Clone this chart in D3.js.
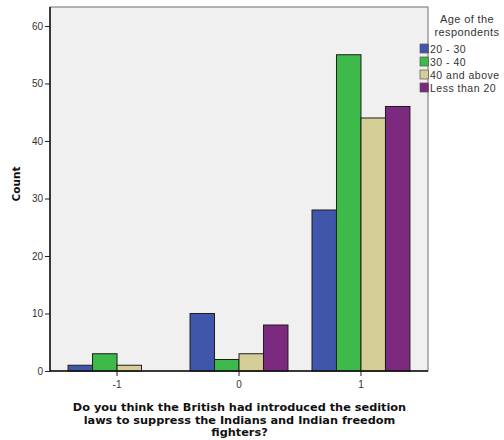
<!DOCTYPE html>
<html>
<head>
<meta charset="utf-8">
<script src="https://cdn.jsdelivr.net/npm/d3@7"></script>
<style>
  body { margin: 0; background: #fff; }
  svg { display: block; }
  text { font-family: "DejaVu Sans", sans-serif; }
</style>
</head>
<body>
<svg id="chart" width="504" height="440"></svg>
<script>
const categories = ["-1", "0", "1"];
const seriesNames = ["20 - 30", "30 - 40", "40 and above", "Less than 20"];
const values_20_30 = [1, 10, 28];
const values_30_40 = [3, 2, 55];
const values_40_above = [1, 3, 44];
const values_less_20 = [0, 8, 46];
const yTicks = [0, 10, 20, 30, 40, 50, 60];
const colors = ["#3f56aa", "#3dba4a", "#d5cf97", "#7b2a80"];

const seriesValues = [values_20_30, values_30_40, values_40_above, values_less_20];

const svg = d3.select("#chart");
const plot = { left: 50, right: 428, top: 7, bottom: 371 };

const x = d3.scaleBand().domain(categories).range([plot.left, plot.right]).paddingInner(0.197).paddingOuter(0.148);
const xs = d3.scaleBand().domain(seriesNames).range([0, x.bandwidth()]);
const y = d3.scaleLinear().domain([0, 63.3]).range([plot.bottom, plot.top]);

// background
svg.append("rect").attr("x", plot.left).attr("y", plot.top)
  .attr("width", plot.right - plot.left).attr("height", plot.bottom - plot.top)
  .attr("fill", "#f0f0f0").attr("stroke", "#6e6e6e").attr("stroke-width", 1);

// bars
const groups = svg.append("g").selectAll("g").data(categories).join("g")
  .attr("transform", d => `translate(${x(d)},0)`);
groups.selectAll("rect").data((c, ci) => seriesNames.map((s, si) => ({ s, si, v: seriesValues[si][ci] })))
  .join("rect")
  .attr("x", d => xs(d.s))
  .attr("width", xs.bandwidth())
  .attr("y", d => y(d.v))
  .attr("height", d => y(0) - y(d.v))
  .attr("fill", d => colors[d.si])
  .attr("stroke", "#1e1e1e").attr("stroke-width", 1);

// y axis
const yAxis = d3.axisLeft(y).tickValues(yTicks).tickSize(5).tickPadding(2);
const gy = svg.append("g").attr("transform", `translate(${plot.left},0)`).call(yAxis);
gy.select(".domain").remove();
gy.selectAll("text").attr("font-size", 10).attr("fill", "#333").style("font-family", "'Liberation Sans', sans-serif");
gy.selectAll("line").attr("stroke", "#222");
svg.append("line").attr("x1", plot.left).attr("x2", plot.left).attr("y1", plot.top).attr("y2", plot.bottom)
  .attr("stroke", "#111").attr("stroke-width", 1.5);

// x axis
const xAxis = d3.axisBottom(x).tickSize(5).tickPadding(5);
const gx = svg.append("g").attr("transform", `translate(0,${plot.bottom})`).call(xAxis);
gx.select(".domain").remove();
gx.selectAll("text").attr("font-size", 10).attr("fill", "#333").style("font-family", "'Liberation Sans', sans-serif");
gx.selectAll("line").attr("stroke", "#222");
svg.append("line").attr("x1", plot.left).attr("x2", plot.right).attr("y1", plot.bottom).attr("y2", plot.bottom)
  .attr("stroke", "#111").attr("stroke-width", 1.5);

// axis titles
svg.append("text").attr("transform", `translate(20,184) rotate(-90)`)
  .attr("text-anchor", "middle").attr("font-size", 10.5).attr("font-weight", "bold").attr("fill", "#111")
  .text("Count");
const xTitle = ["Do you think the British had introduced the sedition",
  "laws to suppress the Indians and Indian freedom", "fighters?"];
svg.append("text").attr("text-anchor", "middle").attr("font-size", 11.3).attr("font-weight", "bold").attr("fill", "#111")
  .selectAll("tspan").data(xTitle).join("tspan")
  .attr("x", 239.5).attr("y", (d, i) => 411 + i * 12.5).text(d => d);

// legend
const lg = svg.append("g");
lg.append("text").attr("text-anchor", "middle").attr("font-size", 11).attr("fill", "#333")
  .attr("letter-spacing", 0.4)
  .style("font-family", "'Liberation Sans', sans-serif")
  .selectAll("tspan").data(["Age of the", "respondents"]).join("tspan")
  .attr("x", 467).attr("y", (d, i) => 23 + i * 13).text(d => d);
const items = lg.selectAll("g.item").data(seriesNames).join("g").attr("class", "item")
  .attr("transform", (d, i) => `translate(420,${44 + i * 13})`);
items.append("rect").attr("width", 8.5).attr("height", 9)
  .attr("fill", (d, i) => colors[i]).attr("stroke", "#555").attr("stroke-width", 0.7);
items.append("text").attr("x", 10).attr("y", 8.5).attr("font-size", 10.5).attr("fill", "#333")
  .attr("letter-spacing", 0.5)
  .style("font-family", "'Liberation Sans', sans-serif").text(d => d);
</script>
</body>
</html>
